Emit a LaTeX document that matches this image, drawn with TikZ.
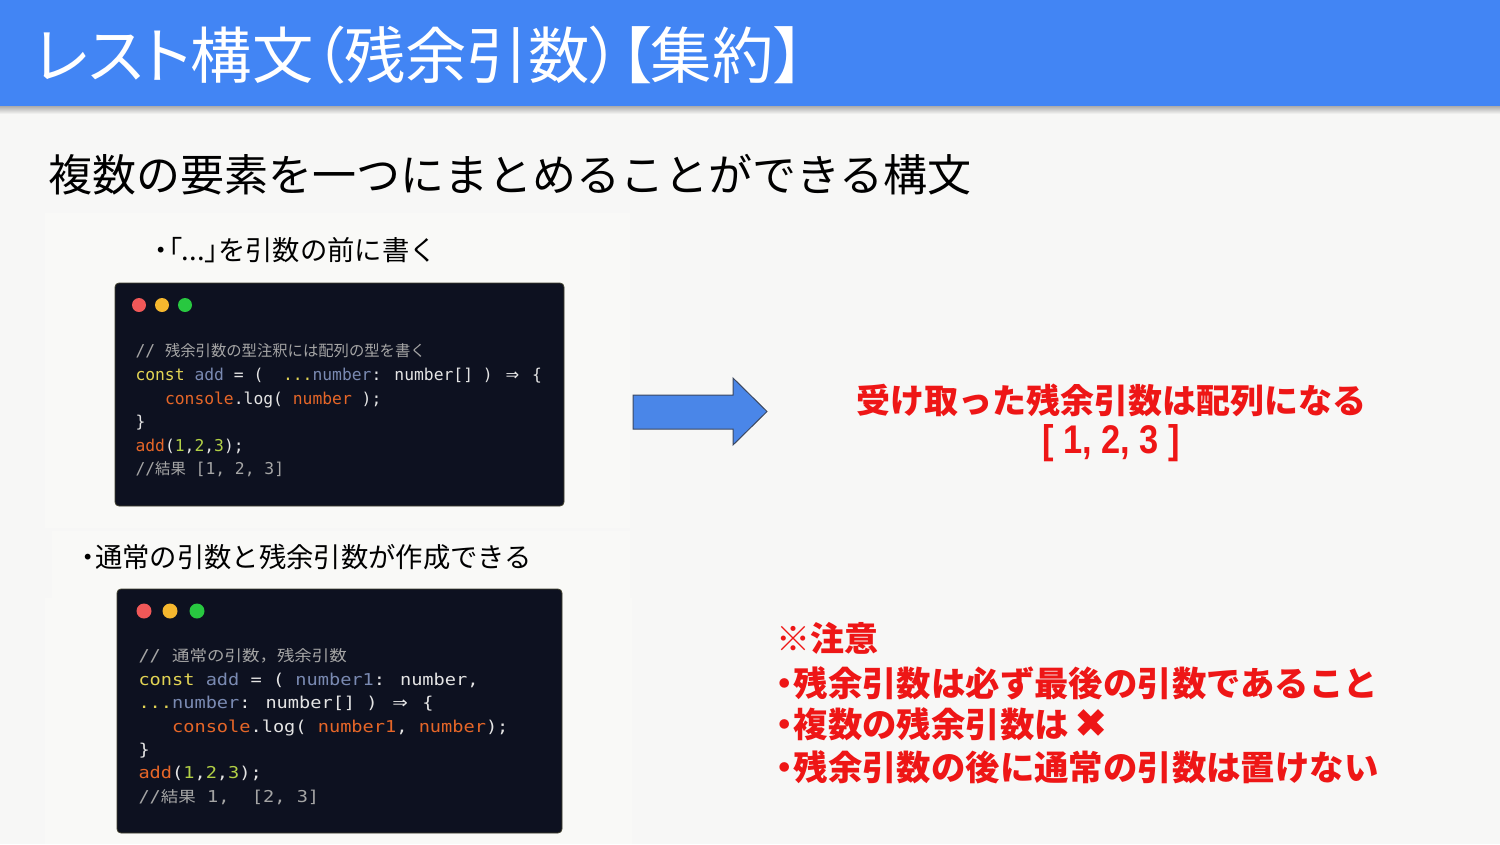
\documentclass[tikz,border=0pt]{standalone}
\usepackage{fontspec}
\newfontfamily\jp{Noto Sans CJK JP}
\newfontfamily\jpp[RawFeature=+palt]{Noto Sans CJK JP}
\newfontfamily\code{DejaVu Sans Mono}
\newfontfamily\sym{DejaVu Sans}
\setsansfont{Liberation Sans}

\definecolor{bandblue}{RGB}{66,133,244}
\definecolor{slidebg}{RGB}{247,247,246}
\definecolor{panelbg}{RGB}{249,249,247}
\definecolor{codebg}{RGB}{13,17,32}
\definecolor{codeedge}{RGB}{64,64,46}
\definecolor{cwhite}{RGB}{228,228,228}
\definecolor{cyel}{RGB}{226,212,84}
\definecolor{cblu}{RGB}{122,138,178}
\definecolor{corg}{RGB}{230,102,40}
\definecolor{cgrn}{RGB}{178,208,70}
\definecolor{cgray}{RGB}{165,165,165}
\definecolor{notered}{RGB}{238,22,22}
\definecolor{arrowblue}{RGB}{74,134,232}
\definecolor{arrowedge}{RGB}{60,72,96}
\definecolor{dotred}{RGB}{240,88,88}
\definecolor{dotyel}{RGB}{245,183,46}
\definecolor{dotgrn}{RGB}{40,200,64}

\newcommand\jpc{\jp\fontsize{11.5}{14}\selectfont}
\newcommand\arr{\makebox[1.204em]{\sym ⇒}}
\newcommand\wide[1]{\scalebox{1.14}[1]{#1}}

\tikzset{every picture/.style={line width=0.75pt},
  codeline/.style={anchor=base west, inner sep=0pt, text=cwhite, font=\code\fontsize{12.25}{14}\selectfont},
  redline/.style={anchor=west, inner sep=0pt, text=notered, font=\jp\bfseries\fontsize{25.8}{30}\selectfont},
  heading/.style={anchor=west, inner sep=0.75pt, text=black, font=\jp\fontsize{20.5}{24}\selectfont},
  codebox/.style={fill=codebg, draw=codeedge, line width=0.6pt, rounded corners=3}}

\begin{document}
\begin{tikzpicture}[x=0.75pt,y=0.75pt,yscale=-1,xscale=1]
\useasboundingbox (0,0) rectangle (1500,844);

%Shape: Rectangle [background]
\fill [slidebg] (0,0) rectangle (1500,844) ;
%Shape: Rectangle [panels]
\fill [panelbg] (45,213) rectangle (630,528) ;
\fill [panelbg] (52,531) rectangle (630,598) ;
\fill [panelbg] (45,598) rectangle (632,844) ;
%Shape: Rectangle [title band]
\shade [top color=black!40, bottom color=slidebg] (0,104) rectangle (1500,114) ;
\fill [bandblue] (0,0) rectangle (1500,106) ;

% Text Node
\draw (33,55) node (title) [anchor=west][inner sep=0.75pt] [text=white, font=\jpp\fontsize{46}{52}\selectfont] {レスト構文（残余引数）【集約】};
% Text Node
\draw (47,175) node (lead) [anchor=west][inner sep=0.75pt] [font=\jp\fontsize{33}{40}\selectfont] {複数の要素を一つにまとめることができる構文};
% Text Node
\draw (153,250) node (headA) [heading] {{\jpp ・「...」}を引数の前に書く};
% Text Node
\draw (80,557) node (headB) [heading] {{\jpp ・}通常の引数と残余引数が作成できる};

%Shape: Rectangle [code box A]
\draw [codebox] (115,283) rectangle (564,506) ;
\fill [dotred] (139,305) circle (7) ;
\fill [dotyel] (162,305) circle (7) ;
\fill [dotgrn] (185,305) circle (7) ;
% Code Lines
\draw (135,356) node (a1) [codeline, text=cgray] {//\ {\jpc 残余引数の型注釈には配列の型を書く}};
\draw (135,380) node (a2) [codeline] {\textcolor{cyel}{const} \textcolor{cblu}{add} = (\ \ \textcolor{cyel}{...}\textcolor{cblu}{number}: number[] ) \arr\ \{};
\draw (135,404) node (a3) [codeline] {\ \ \ \textcolor{corg}{console}.log( \textcolor{corg}{number} );};
\draw (135,427) node (a4) [codeline] {\}};
\draw (135,451) node (a5) [codeline] {\textcolor{corg}{add}(\textcolor{cgrn}{1},\textcolor{cgrn}{2},\textcolor{cgrn}{3});};
\draw (135,474) node (a6) [codeline, text=cgray] {//{\jpc 結果} [1, 2, 3]};

%Shape: Rectangle [code box B]
\draw [codebox] (117,589) rectangle (562,833) ;
\fill [dotred] (144,611) circle (7.5) ;
\fill [dotyel] (170,611) circle (7.5) ;
\fill [dotgrn] (197,611) circle (7.5) ;
% Code Lines
\draw (138,661) node (b1) [codeline, text=cgray] {\wide{//\ {\jpc 通常の引数，残余引数}}};
\draw (138,685) node (b2) [codeline] {\wide{\textcolor{cyel}{const} \textcolor{cblu}{add} = ( \textcolor{cblu}{number1}: number,}};
\draw (138,708) node (b3) [codeline] {\wide{\textcolor{cyel}{...}\textcolor{cblu}{number}: number[] ) \arr\ \{}};
\draw (138,732) node (b4) [codeline] {\wide{\ \ \ \textcolor{corg}{console}.log( \textcolor{corg}{number1}, \textcolor{corg}{number});}};
\draw (138,755) node (b5) [codeline] {\wide{\}}};
\draw (138,778) node (b6) [codeline] {\wide{\textcolor{corg}{add}(\textcolor{cgrn}{1},\textcolor{cgrn}{2},\textcolor{cgrn}{3});}};
\draw (138,802) node (b7) [codeline, text=cgray] {\wide{//{\jpc 結果} 1,\ \ [2, 3]}};

%Shape: Right Arrow
\draw [draw=arrowedge, fill=arrowblue, line width=0.75] (633,395) -- (733,395) -- (733,378) -- (767,411.5) -- (733,445) -- (733,429) -- (633,429) -- cycle ;

% Text Node
\draw (1111,400) node (result) [redline, anchor=center, font=\jp\bfseries\fontsize{25.5}{30}\selectfont] {受け取った残余引数は配列になる};
% Text Node
\draw (1111,443) node (array) [redline, anchor=center, font=\sffamily\bfseries\fontsize{30}{34}\selectfont] {\scalebox{0.86}[1]{[ 1, 2, 3 ]}};

% Text Node
\draw (776,638) node (caution) [redline, font=\jp\bfseries\fontsize{25.5}{30}\selectfont] {※注意};
\draw (776,683) node (ruleA) [redline] {{\jpp ・}残余引数は必ず最後の引数であること};
\draw (776,724) node (ruleB) [redline] {{\jpp ・}複数の残余引数は\,{\sym\fontsize{30}{30}\selectfont ✖}};
\draw (776,767) node (ruleC) [redline] {{\jpp ・}残余引数の後に通常の引数は置けない};
\end{tikzpicture}
\end{document}
